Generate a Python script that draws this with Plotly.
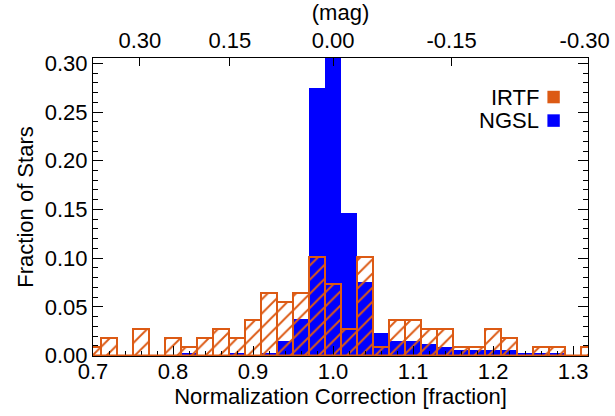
import plotly.graph_objects as go

# Bin centres (normalization correction, bin width 0.02)
bin_centers = [0.70, 0.72, 0.74, 0.76, 0.78, 0.80, 0.82, 0.84, 0.86, 0.88,
               0.90, 0.92, 0.94, 0.96, 0.98, 1.00, 1.02, 1.04, 1.06, 1.08,
               1.10, 1.12, 1.14, 1.16, 1.18, 1.20, 1.22, 1.24, 1.26, 1.28,
               1.30, 1.32]

# Fraction of stars per bin
irtf_frac = [0.0092, 0.0184, 0.0, 0.0275, 0.0, 0.0184, 0.0092, 0.0184, 0.0275, 0.0184,
             0.0367, 0.0642, 0.0550, 0.0642, 0.1009, 0.0734, 0.0275, 0.1009, 0.0092, 0.0367,
             0.0367, 0.0275, 0.0275, 0.0092, 0.0092, 0.0275, 0.0184, 0.0, 0.0092, 0.0092,
             0.0, 0.0092]

ngsl_frac = [0.0, 0.0, 0.0, 0.0, 0.0, 0.0, 0.003, 0.0, 0.0, 0.003,
             0.0, 0.003, 0.015, 0.038, 0.275, 0.335, 0.146, 0.075, 0.023, 0.015,
             0.015, 0.012, 0.009, 0.006, 0.006, 0.006, 0.006, 0.003, 0.003, 0.003,
             0.0, 0.0]

# Top axis: magnitude labels
mag_ticks = [0.30, 0.15, 0.00, -0.15, -0.30]
mag_labels = ["0.30", "0.15", "0.00", "-0.15", "-0.30&nbsp;"]
mag_positions = [10 ** (-m / 2.5) for m in mag_ticks]

ORANGE = "#DC5A14"
BLUE = "#0000FF"
FONT = "Liberation Sans, Arial, Helvetica, sans-serif"

x_range = [0.7, 1.3186]

fig = go.Figure()

fig.add_trace(go.Bar(
    x=bin_centers, y=ngsl_frac, width=0.02,
    marker=dict(color=BLUE, line=dict(width=0)),
    name="NGSL", showlegend=False,
))

fig.add_trace(go.Bar(
    x=bin_centers, y=irtf_frac, width=0.02,
    marker=dict(
        color="rgba(0,0,0,0)",
        line=dict(color=ORANGE, width=2),
        pattern=dict(shape="/", fgcolor=ORANGE, bgcolor="rgba(0,0,0,0)",
                     fillmode="overlay", fgopacity=1, size=10, solidity=0.2),
    ),
    name="IRTF", showlegend=False,
))

# invisible trace to activate the top axis
fig.add_trace(go.Scatter(x=mag_positions, y=[0] * len(mag_positions), xaxis="x2",
                         mode="markers", marker=dict(opacity=0), showlegend=False,
                         hoverinfo="skip"))

axis_font = dict(family=FONT, size=22, color="black")

fig.update_layout(
    width=615, height=416,
    margin=dict(l=93, r=27, t=58, b=60),
    paper_bgcolor="white", plot_bgcolor="white",
    barmode="overlay", bargap=0,
    font=axis_font,
    showlegend=False,
    xaxis=dict(
        range=x_range, showgrid=False, zeroline=False, automargin=False,
        showline=True, linecolor="black", linewidth=1, mirror=False,
        tickvals=[0.7, 0.8, 0.9, 1.0, 1.1, 1.2, 1.3],
        ticktext=["0.7", "0.8", "0.9", "1.0", "1.1", "1.2", "1.3"],
        ticks="inside", ticklen=10, tickcolor="black",
        minor=dict(tickvals=[0.72, 0.74, 0.76, 0.78, 0.82, 0.84, 0.86, 0.88,
                             0.92, 0.94, 0.96, 0.98, 1.02, 1.04, 1.06, 1.08,
                             1.12, 1.14, 1.16, 1.18, 1.22, 1.24, 1.26, 1.28, 1.32],
                   ticks="inside", ticklen=5, tickcolor="black"),
        tickfont=axis_font, ticklabeloverflow="allow", ticklabelstandoff=-4,
        title=dict(text="Normalization Correction [fraction]", font=axis_font, standoff=0),
    ),
    xaxis2=dict(
        range=x_range, overlaying="x", side="top", showgrid=False, zeroline=False,
        automargin=False,
        showline=True, linecolor="black", linewidth=1,
        tickvals=mag_positions, ticktext=mag_labels,
        ticks="inside", ticklen=8, tickcolor="black",
        tickfont=axis_font, ticklabeloverflow="allow",
        title=dict(text="(mag)", font=axis_font, standoff=8),
    ),
    yaxis=dict(
        range=[-0.0005, 0.3055], showgrid=False, zeroline=False, automargin=False,
        showline=True, linecolor="black", linewidth=1, mirror="ticks",
        tickvals=[0.0, 0.05, 0.10, 0.15, 0.20, 0.25, 0.30],
        ticktext=["0.00", "0.05", "0.10", "0.15", "0.20", "0.25", "0.30"],
        ticks="inside", ticklen=10, tickcolor="black",
        minor=dict(dtick=0.01, ticks="inside", ticklen=5, tickcolor="black"),
        tickfont=axis_font,
        title=dict(text="Fraction of Stars", font=axis_font, standoff=5),
    ),
)

# orange baseline of the IRTF histogram
fig.add_shape(type="line", xref="x", yref="y", x0=x_range[0], x1=x_range[1], y0=0, y1=0,
              line=dict(color=ORANGE, width=2))

# Legend: text followed by coloured square
legend_items = [("IRTF", ORANGE, 0.869), ("NGSL", BLUE, 0.790)]
for label, col, yy in legend_items:
    fig.add_annotation(x=0.905, y=yy, xref="paper", yref="paper", text=label,
                       showarrow=False, xanchor="right", yanchor="middle",
                       font=axis_font)
    fig.add_shape(type="rect", xref="paper", yref="paper",
                  x0=0.918, x1=0.943, y0=yy - 0.021, y1=yy + 0.021,
                  fillcolor=col, line=dict(width=0))

# remove the browser's default page margin so the figure fills the window exactly
fig.write_html("out.html", config={"displayModeBar": False},
               post_script="document.body.style.margin='0';document.body.style.overflow='hidden';")
